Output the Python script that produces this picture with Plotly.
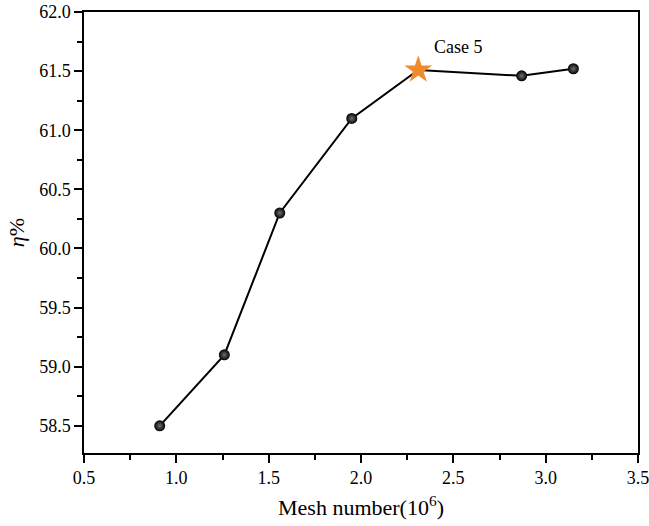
import plotly.graph_objects as go

mesh = [0.91, 1.26, 1.56, 1.95, 2.31, 2.87, 3.15]
eta = [58.5, 59.1, 60.3, 61.1, 61.51, 61.46, 61.52]
case_idx = 4
case_label = "Case 5"

FONT = "Liberation Serif"

fig = go.Figure()
fig.add_trace(go.Scatter(
    x=mesh, y=eta, mode="lines",
    line=dict(color="black", width=2),
    showlegend=False, hoverinfo="skip",
))
other_x = [m for i, m in enumerate(mesh) if i != case_idx]
other_y = [e for i, e in enumerate(eta) if i != case_idx]
fig.add_trace(go.Scatter(
    x=other_x, y=other_y, mode="markers",
    marker=dict(size=11, color="black",
                gradient=dict(type="radial", color="#707070"),
                line=dict(width=0)),
    showlegend=False,
))
fig.add_trace(go.Scatter(
    x=[mesh[case_idx]], y=[eta[case_idx]], mode="markers",
    marker=dict(symbol="star", size=21, color="#F28A2B", line=dict(width=0)),
    showlegend=False,
))
fig.add_annotation(
    x=mesh[case_idx], y=eta[case_idx], text=case_label, showarrow=False,
    xanchor="left", yanchor="bottom", xshift=14, yshift=11,
    font=dict(family=FONT, size=18, color="black"),
)

axis_common = dict(
    showgrid=False, zeroline=False, showline=True, linecolor="black", linewidth=1.5,
    mirror=True, ticks="outside", ticklen=8, tickwidth=1.5, tickcolor="black",
    tickfont=dict(family=FONT, size=18, color="black"), automargin=False,
    ticklabeloverflow="allow",
)
fig.update_xaxes(
    range=[0.5, 3.5], dtick=0.5, tick0=0.5, tickformat=".1f",
    minor=dict(ticks="outside", ticklen=5, tickwidth=1.5, tickcolor="black", dtick=0.25, tick0=0.5),
    title=dict(text="Mesh number(10<sup>6</sup>)", font=dict(family=FONT, size=22, color="black"), standoff=12),
    **axis_common,
)
fig.update_yaxes(
    range=[58.27, 62.0], dtick=0.5, tick0=58.5, tickformat=".1f",
    minor=dict(ticks="outside", ticklen=5, tickwidth=1.5, tickcolor="black", dtick=0.25, tick0=58.5),
    title=dict(text="<i>η</i>%", font=dict(family=FONT, size=22, color="black"), standoff=8),
    **axis_common,
)
fig.update_layout(
    width=649, height=526,
    margin=dict(l=84, r=11, t=12, b=73),
    plot_bgcolor="white", paper_bgcolor="white",
    font=dict(family=FONT, color="black"),
)
fig.write_html("out.html")
